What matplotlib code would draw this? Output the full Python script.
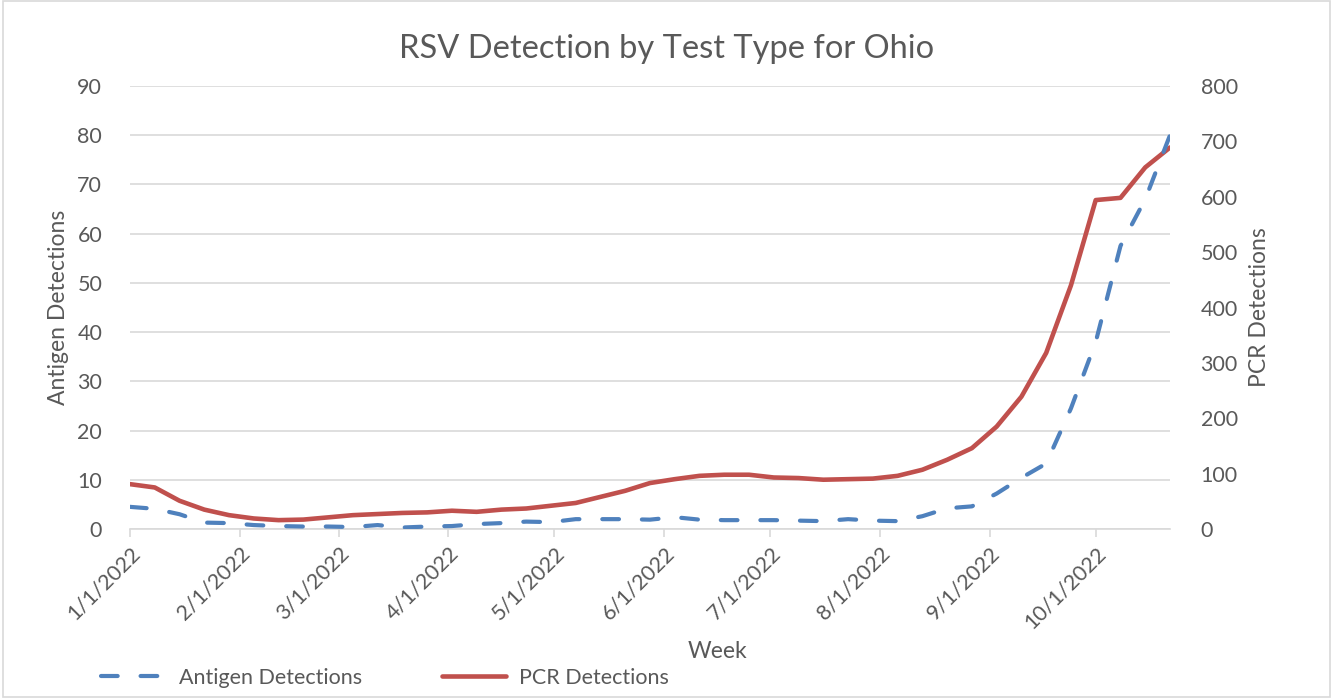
import matplotlib
matplotlib.use("Agg")
import matplotlib.pyplot as plt
import matplotlib.dates as mdates
from matplotlib.ticker import FuncFormatter, MultipleLocator
from matplotlib.patches import Rectangle
import pandas as pd

plt.rcParams['font.family'] = ['Lato', 'DejaVu Sans']

week_start = "2022-01-01"
n_weeks = 43
antigen = [4.5, 4.1, 3.0, 1.3, 1.2, 0.8, 0.6, 0.5, 0.5, 0.4, 0.8, 0.3, 0.5, 0.6,
           1.0, 1.2, 1.5, 1.4, 2.0, 2.0, 2.0, 1.9, 2.4, 1.9, 1.8, 1.8, 1.8, 1.7,
           1.6, 2.0, 1.7, 1.6, 2.6, 4.2, 4.6, 7.2, 10.4, 13.3, 24.5, 38.0, 57.5,
           67.0, 80.0]
pcr = [81, 75, 51, 35, 25, 19, 16, 17, 21, 25, 27, 29, 30, 33, 31, 35, 37, 42,
       47, 58, 69, 83, 90, 96, 98, 98, 93, 92, 89, 90, 91, 96, 107, 125, 146,
       185, 239, 318, 440, 594, 598, 653, 689]
month_ticks = ["2022-01-01", "2022-02-01", "2022-03-01", "2022-04-01", "2022-05-01",
               "2022-06-01", "2022-07-01", "2022-08-01", "2022-09-01", "2022-10-01"]

weeks = pd.date_range(week_start, periods=n_weeks, freq="7D")

TXT = "#595959"
GRID = "#d9d9d9"
BLUE = "#4f81bd"
RED = "#c0504d"

fig = plt.figure(figsize=(13.33, 6.98), dpi=100)
fig.patches.append(Rectangle((0.002, 0.002), 0.996, 0.996, transform=fig.transFigure,
                             fill=False, edgecolor="#d9d9d9", linewidth=1.2))

ax = fig.add_axes([130/1333, 1-529/698, (1170-130)/1333, (529-86)/698])
ax2 = ax.twinx()
ax3 = ax.twinx()

ax2.plot(weeks, pcr, color=RED, linewidth=3.3, solid_capstyle='round',
         solid_joinstyle='round', label="PCR Detections")
l1, = ax3.plot(weeks, antigen, color=BLUE, linewidth=3.0, linestyle=(0, (4, 5.5)),
               dash_capstyle='round', label="Antigen Detections")

ax.set_ylim(0, 90)
ax3.set_ylim(0, 90)
ax2.set_ylim(0, 800)
ax.yaxis.set_major_locator(MultipleLocator(10))
ax2.yaxis.set_major_locator(MultipleLocator(100))
ax.set_xlim(weeks[0], weeks[-1])

ax.grid(axis='y', color=GRID, linewidth=1.2)
ax.set_axisbelow(True)
for a in (ax, ax2, ax3):
    for s in a.spines.values():
        s.set_visible(False)
ax.spines['bottom'].set_visible(True)
ax.spines['bottom'].set_color(GRID)
ax.spines['bottom'].set_linewidth(1.2)

ax3.set_yticks([])
ax3.tick_params(axis='x', bottom=False, labelbottom=False)
ax2.tick_params(axis='x', bottom=False, labelbottom=False)

ax.set_xticks(pd.to_datetime(month_ticks))
ax.xaxis.set_major_formatter(FuncFormatter(
    lambda v, p: (lambda d: f"{d.month}/{d.day}/{d.year}")(mdates.num2date(v))))
ax.tick_params(axis='x', direction='out', length=6, width=1.2, color=GRID,
               labelcolor=TXT, labelsize=15.5, pad=4)
for lbl in ax.get_xticklabels():
    lbl.set_rotation(45)
    lbl.set_ha('right')
    lbl.set_va('top')
    lbl.set_rotation_mode('anchor')

ax.tick_params(axis='y', length=0, labelcolor=TXT, labelsize=15.5, pad=20)
ax2.tick_params(axis='y', length=0, labelcolor=TXT, labelsize=15.5, pad=22)

ax.set_ylabel("Antigen Detections", color=TXT, fontsize=16.5, labelpad=6)
ax2.set_ylabel("PCR Detections", color=TXT, fontsize=16.5, labelpad=8)

fig.text(717/1333, 1-651/698, "Week", color=TXT, fontsize=16.5, ha='center', va='center')
fig.text(667/1333, 1-49/698, "RSV Detection by Test Type for Ohio", color=TXT,
         fontsize=23.5, ha='center', va='center')

h2, lab2 = ax2.get_legend_handles_labels()
leg = fig.legend([l1] + h2, ["Antigen Detections"] + lab2, ncol=2, frameon=False,
                 loc='center left', bbox_to_anchor=(82/1333, 1-678/698),
                 fontsize=15.5, handlelength=3.0, columnspacing=3.7, handletextpad=0.6,
                 labelcolor=TXT)

fig.savefig("out.png", dpi=100)
